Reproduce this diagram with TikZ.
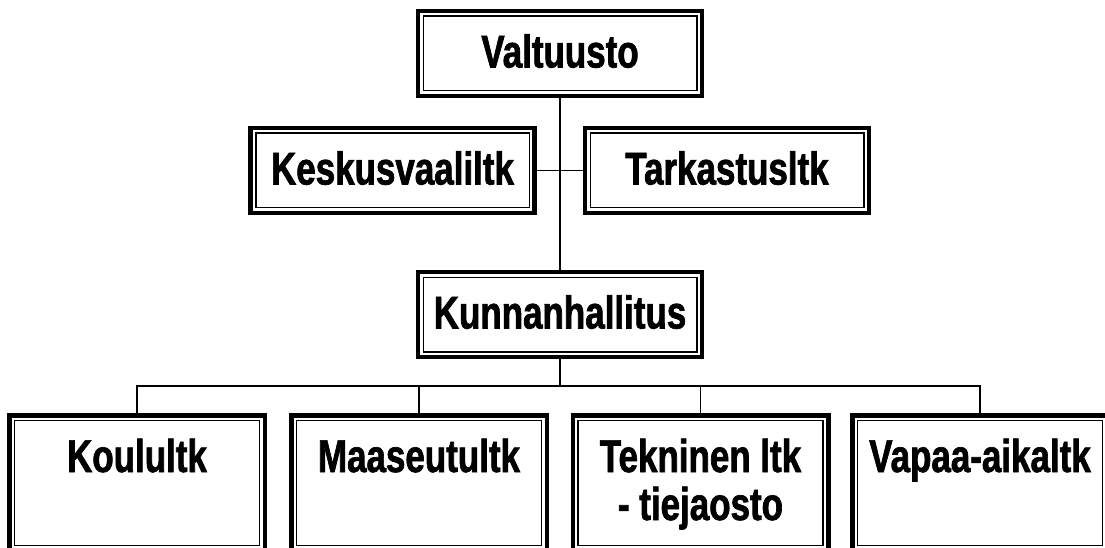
\documentclass[tikz,border=0pt]{standalone}
\usepackage{fontspec}
\newfontfamily\orgfont{Liberation Sans}[FakeStretch=0.76, FakeBold=1.5]
\usetikzlibrary{calc}

\begin{document}
\begin{tikzpicture}[x=1pt, y=1pt,
    orgbox/.style={draw, line width=4.5pt, minimum width=284, minimum height=85,
        inner sep=0pt, align=center, text height=34, text depth=6,
        font=\orgfont\bfseries\fontsize{46}{48}\selectfont,
        path picture={\draw[line width=1.5pt]
            ([shift={(5.25,-5.25)}]path picture bounding box.north west) rectangle
            ([shift={(-5.25,5.25)}]path picture bounding box.south east);}},
    unitbox/.style={orgbox, minimum width=255.5, minimum height=135.5, text depth=56},
    link/.style={line width=1.8pt}]
    \def\bus{161}

    \clip (0, 0) rectangle (1105, 547);

    \node[orgbox] (valt) at (560, 493.5) {Valtuusto};
    \node[orgbox] (keskus) at (392.5, 376.5) {Keskusvaaliltk};
    \node[orgbox] (tark) at (727, 376.5) {Tarkastusltk};
    \node[orgbox] (kunta) at (560, 232.5) {Kunnanhallitus};

    \node[unitbox] (koulu) at (137, 64) {Koulultk};
    \node[unitbox] (maa) at (419, 64) {Maaseutultk};
    \node[unitbox, text height=82, text depth=8] (tekn) at (700.5, 64)
        {Tekninen ltk\\- tiejaosto};
    \node[unitbox] (vapaa) at (980, 64) {Vapaa-aikaltk};

    \draw[link] (valt.south) -- (kunta.north);
    \draw[link] (keskus.east) -- (tark.west);

    % haarautuminen lautakuntiin
    \coordinate (haara) at (560, \bus);
    \draw[link] (kunta.south) -- (haara);
    \draw[link] (koulu.north) |- (haara) -| (vapaa.north);
    \foreach \u in {maa, tekn}
        \draw[link] (\u.north) -- (\u.north |- haara);
\end{tikzpicture}
\end{document}
